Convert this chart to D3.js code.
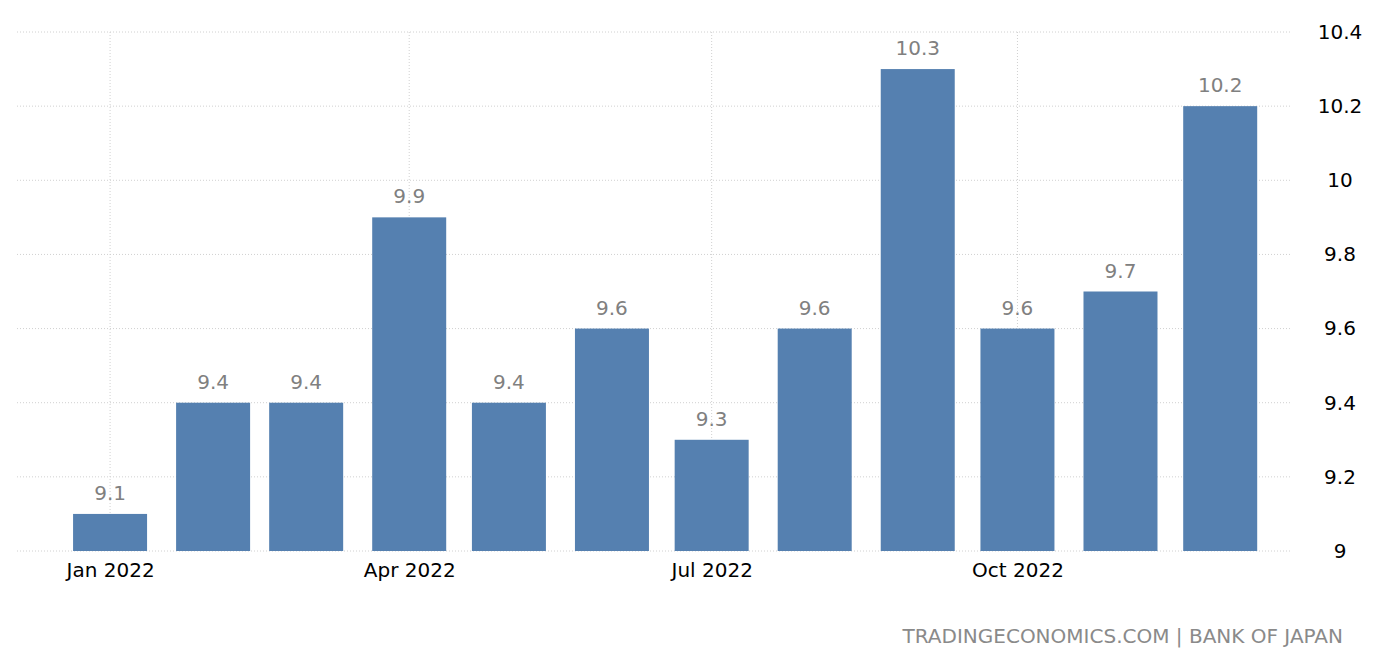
<!DOCTYPE html>
<html><head><meta charset="utf-8">
<script src="https://cdn.jsdelivr.net/npm/d3@7"></script>
<style>body{margin:0;background:#fff}text{font-family:"DejaVu Sans",sans-serif}</style>
</head><body>
<svg id="c" width="1376" height="662"></svg>
<script>
const months = ["2022-01-01","2022-02-01","2022-03-01","2022-04-01","2022-05-01","2022-06-01",
                "2022-07-01","2022-08-01","2022-09-01","2022-10-01","2022-11-01","2022-12-01"]
const values = [9.1,9.4,9.4,9.9,9.4,9.6,9.3,9.6,10.3,9.6,9.7,10.2]
const yTicks = [9,9.2,9.4,9.6,9.8,10,10.2,10.4]
const xTicks = ["2022-01-01","2022-04-01","2022-07-01","2022-10-01"]

const parse = d3.utcParse("%Y-%m-%d")
const svg = d3.select("#c")
const x = d3.scaleUtc().domain([parse("2021-12-04"), parse("2022-12-22")]).range([17, 1290])
const y = d3.scaleLinear().domain([9, 10.4]).range([551, 32])
const barW = 74

// grid
svg.selectAll(".hg").data(yTicks).enter().append("line")
  .attr("x1", 17).attr("x2", 1290).attr("y1", d => y(d)).attr("y2", d => y(d))
  .attr("stroke", "#d0d0d0").attr("stroke-dasharray", "1,2")
svg.selectAll(".vg").data(xTicks).enter().append("line")
  .attr("x1", d => x(parse(d))).attr("x2", d => x(parse(d))).attr("y1", 32).attr("y2", 551)
  .attr("stroke", "#d0d0d0").attr("stroke-dasharray", "1,2")

// bars
svg.selectAll(".bar").data(values).enter().append("rect")
  .attr("x", (d, i) => x(parse(months[i])) - barW / 2)
  .attr("width", barW)
  .attr("y", d => y(d)).attr("height", d => y(9) - y(d))
  .attr("fill", "#5580b0")
svg.selectAll(".lbl").data(values).enter().append("text")
  .attr("x", (d, i) => x(parse(months[i])))
  .attr("y", d => y(d) - 14)
  .attr("text-anchor", "middle").attr("font-size", 20).attr("fill", "#808080")
  .text(d => d)

// axes
const yAxis = d3.axisRight(y).tickValues(yTicks).tickSize(0).tickPadding(0)
  .tickFormat(d => d3.format("~g")(d))
svg.append("g").attr("transform", "translate(1340,0)").call(yAxis)
  .call(g => g.select(".domain").remove())
  .selectAll("text").attr("text-anchor", "middle").attr("font-size", 20)
  .attr("fill", "#000").attr("font-family", "DejaVu Sans")

const xAxis = d3.axisBottom(x).tickValues(xTicks.map(parse)).tickSize(0).tickPadding(12)
  .tickFormat(d3.utcFormat("%b %Y"))
svg.append("g").attr("transform", "translate(0,551)").call(xAxis)
  .call(g => g.select(".domain").remove())
  .selectAll("text").attr("font-size", 20).attr("fill", "#000").attr("font-family", "DejaVu Sans")

svg.append("text").attr("x", 1343).attr("y", 643).attr("text-anchor", "end")
  .attr("font-size", 20).attr("fill", "#8a8a8a")
  .text("TRADINGECONOMICS.COM | BANK OF JAPAN")
</script>
</body></html>
